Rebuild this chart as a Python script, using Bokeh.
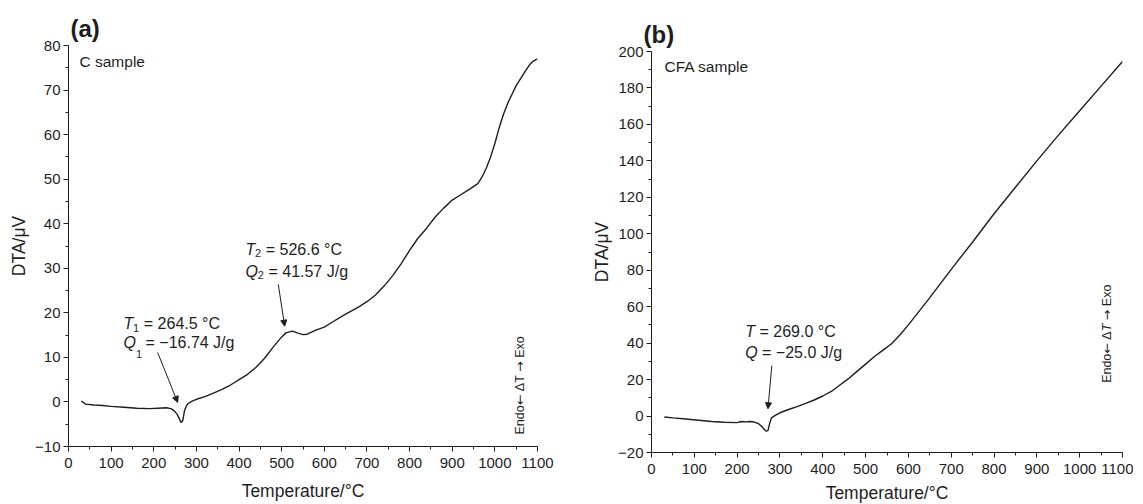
import math
from bokeh.plotting import figure
from bokeh.models import (Range1d, SingleIntervalTicker, CustomJSTickFormatter,
                          Label, Arrow, NormalHead, Spacer)
from bokeh.layouts import row, column
from bokeh.embed import file_html
from bokeh.resources import INLINE

# ---------------- data ----------------
temp_a = [30, 40, 60, 80, 100, 130, 160, 190, 210, 230, 240, 248, 255, 260, 264, 268,
          272, 276, 280, 290, 300, 320, 340, 360, 380, 400, 420, 440, 460, 480, 500,
          510, 525, 540, 550, 560, 580, 600, 620, 650, 680, 700, 720, 740, 760, 780,
          800, 820, 840, 860, 880, 900, 920, 940, 960, 970, 980, 990, 1000, 1010,
          1020, 1030, 1040, 1050, 1060, 1070, 1080, 1090, 1100]
dta_a = [0.2, -0.5, -0.7, -0.8, -1.0, -1.2, -1.4, -1.5, -1.4, -1.3, -1.5, -2.0, -2.8,
         -3.8, -4.6, -4.2, -2.0, -1.0, -0.4, 0.2, 0.6, 1.2, 2.0, 2.8, 3.8, 5.0, 6.2,
         7.8, 9.8, 12.3, 14.6, 15.5, 15.9, 15.4, 15.1, 15.2, 16.1, 16.8, 18.0, 19.7,
         21.3, 22.5, 24.0, 26.0, 28.3, 31.0, 34.0, 36.8, 39.0, 41.5, 43.5, 45.3, 46.5,
         47.7, 49.0, 50.5, 52.5, 55.0, 58.0, 61.5, 64.5, 67.0, 69.0, 71.0, 72.5, 74.0,
         75.5, 76.5, 77.0]

temp_b = [30, 50, 80, 110, 140, 170, 200, 210, 220, 230, 240, 250, 258, 264, 268, 272,
          276, 280, 290, 300, 320, 340, 360, 380, 400, 420, 440, 460, 480, 500, 520,
          540, 560, 580, 600, 650, 700, 750, 800, 850, 900, 950, 1000, 1050, 1100]
dta_b = [-0.5, -1.0, -1.6, -2.3, -3.0, -3.4, -3.6, -3.0, -3.2, -3.0, -3.3, -4.2, -5.8,
         -7.5, -8.3, -8.0, -4.0, -1.0, 0.5, 1.8, 3.6, 5.2, 7.0, 8.8, 11.0, 13.5, 17.0,
         20.5, 24.5, 28.5, 32.5, 36.0, 39.5, 44.5, 50.0, 65.0, 80.5, 95.5, 111.0,
         125.5, 140.0, 154.0, 167.5, 181.0, 194.5]

panel_titles = ["(a)", "(b)"]
sample_names = ["C sample", "CFA sample"]
x_label = "Temperature/°C"
y_label = "DTA/μV"
direction_parts = ["Endo", "←", "Δ", "T", "→", "Exo"]

FONT = "Liberation Sans"
ARROW_FONT = "DejaVu Sans"
INK = "#1e1e1e"


def make_fig(fw, fh, ymin, ymax, yint, title, title_offset, xlab_standoff, br):
    p = figure(frame_width=fw, frame_height=fh, output_backend="svg",
               toolbar_location=None, title=title, min_border_right=br,
               x_range=Range1d(0, 1100), y_range=Range1d(ymin, ymax))
    p.outline_line_color = None
    p.xgrid.visible = False
    p.ygrid.visible = False
    p.title.text_font = FONT
    p.title.text_font_size = "24px"
    p.title.text_font_style = "bold"
    p.title.text_color = INK
    p.title.align = "left"
    p.title.offset = title_offset
    p.title.standoff = 7
    p.xaxis.ticker = SingleIntervalTicker(interval=100, num_minor_ticks=2)
    p.yaxis.ticker = SingleIntervalTicker(interval=yint, num_minor_ticks=2)
    p.yaxis.formatter = CustomJSTickFormatter(
        code="return tick < 0 ? '\\u2212' + Math.abs(tick) : String(tick);")
    for ax in (p.xaxis[0], p.yaxis[0]):
        ax.axis_line_color = INK
        ax.major_tick_line_color = INK
        ax.minor_tick_line_color = INK
        ax.major_tick_in = 0
        ax.major_tick_out = 5
        ax.minor_tick_in = 0
        ax.minor_tick_out = 3
        ax.major_label_text_font = FONT
        ax.major_label_text_font_size = "15px"
        ax.major_label_text_color = INK
        ax.axis_label_text_font = FONT
        ax.axis_label_text_font_size = "17.5px"
        ax.axis_label_text_font_style = "normal"
        ax.axis_label_text_color = INK
    p.xaxis.major_label_standoff = 6
    p.yaxis.major_label_standoff = 3
    p.xaxis.axis_label_standoff = xlab_standoff
    p.yaxis.axis_label_standoff = 3
    p.xaxis.axis_label = x_label
    p.yaxis.axis_label = y_label
    return p


def lab(p, x, y, text, dx=0, dy=0, size="16px", style="normal", angle=0,
        align="left", baseline="middle", font=FONT):
    p.add_layout(Label(x=x, y=y, x_offset=dx, y_offset=dy, text=text,
                       text_font=font, text_font_size=size, text_font_style=style,
                       text_color=INK, text_align=align, text_baseline=baseline,
                       angle=angle))


def arrow(p, x0, y0, x1, y1):
    p.add_layout(Arrow(end=NormalHead(size=6, fill_color=INK, line_color=INK, line_width=1),
                       x_start=x0, y_start=y0, x_end=x1, y_end=y1,
                       line_color=INK, line_width=1))


def direction(p, x, y, italic_t):
    # vertical "Endo ← ΔT → Exo", built bottom-to-top from pieces
    offsets = [0, 29.2, 43.2, 51.6, 62.7, 76.7]
    fonts = [FONT, ARROW_FONT, FONT, FONT, ARROW_FONT, FONT]
    styles = ["normal", "normal", "normal", "italic" if italic_t else "normal",
              "normal", "normal"]
    for part, off, fnt, sty in zip(direction_parts, offsets, fonts, styles):
        lab(p, x, y, part, dy=off, size="12.5px", style=sty, angle=math.pi / 2,
            align="left", font=fnt)


# ---------------- panel (a) ----------------
pa = make_fig(469, 401, -10, 80, 10, panel_titles[0], 2, 10, 50)
pa.line(temp_a, dta_a, line_color=INK, line_width=1.4)
lab(pa, 0, 80, sample_names[0], dx=11, dy=-15.5, size="15.5px")

# T1 / Q1
lab(pa, 129, 17.6, "T", style="italic")
lab(pa, 129, 17.6, "1", dx=9.5, dy=-4, size="11px")
lab(pa, 129, 17.6, "= 264.5 °C", dx=20.3)
lab(pa, 129, 13.4, "Q", style="italic")
lab(pa, 129, 13.4, "1", dx=12.5, dy=-12, size="11px")
lab(pa, 129, 13.4, "= −16.74 J/g", dx=22)
arrow(pa, 209, 11.1, 256, -0.1)

# T2 / Q2
lab(pa, 415, 34.3, "T", style="italic")
lab(pa, 415, 34.3, "2", dx=9.5, dy=-4, size="11px")
lab(pa, 415, 34.3, "= 526.6 °C", dx=20.3)
lab(pa, 415, 29.3, "Q", style="italic")
lab(pa, 415, 29.3, "2", dx=12.4, dy=-4, size="11px")
lab(pa, 415, 29.3, "= 41.57 J/g", dx=23)
arrow(pa, 492, 26.4, 507, 17.0)

direction(pa, 1058, -7.3, False)

# ---------------- panel (b) ----------------
pb = make_fig(471, 401, -20, 200, 20, panel_titles[1], -8, 6, 11)
pb.line(temp_b, dta_b, line_color=INK, line_width=1.4)
lab(pb, 0, 200, sample_names[1], dx=13, dy=-15, size="15.5px")

lab(pb, 219, 46.4, "T", style="italic")
lab(pb, 219, 46.4, "= 269.0 °C", dx=14.2)
lab(pb, 219, 35.0, "Q", style="italic")
lab(pb, 219, 35.0, "= −25.0 J/g", dx=16.8)
arrow(pb, 281, 27.7, 272, 4)

direction(pb, 1063, 18.2, True)

layout = row(Spacer(width=6),
             column(Spacer(height=9), pa),
             Spacer(width=2),
             column(Spacer(height=15), pb))
open("out.html", "w").write(file_html(layout, INLINE))
